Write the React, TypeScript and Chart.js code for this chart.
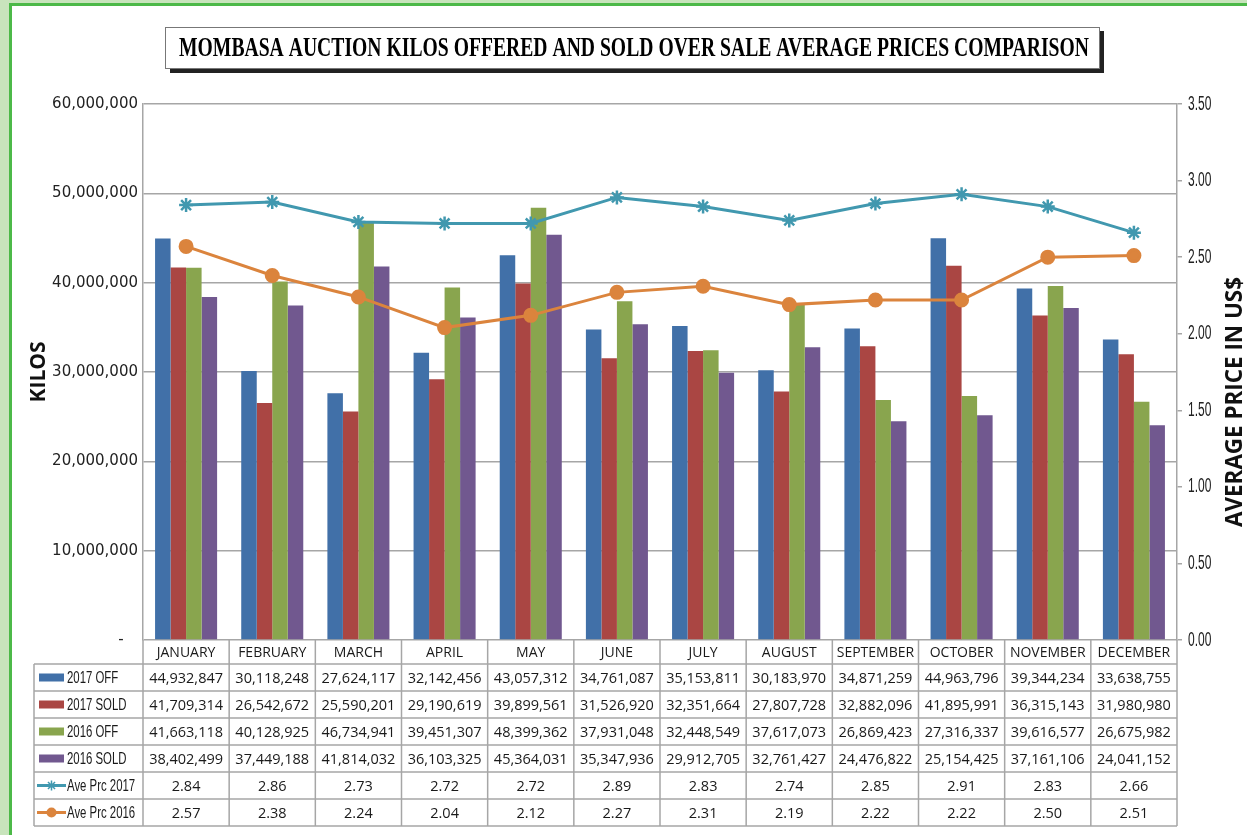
import React, { useEffect, useRef } from "react";
import { Chart, registerables } from "chart.js";

Chart.register(...registerables);

const months = ["JANUARY", "FEBRUARY", "MARCH", "APRIL", "MAY", "JUNE", "JULY", "AUGUST", "SEPTEMBER", "OCTOBER", "NOVEMBER", "DECEMBER"];
const off2017 = [44932847, 30118248, 27624117, 32142456, 43057312, 34761087, 35153811, 30183970, 34871259, 44963796, 39344234, 33638755];
const sold2017 = [41709314, 26542672, 25590201, 29190619, 39899561, 31526920, 32351664, 27807728, 32882096, 41895991, 36315143, 31980980];
const off2016 = [41663118, 40128925, 46734941, 39451307, 48399362, 37931048, 32448549, 37617073, 26869423, 27316337, 39616577, 26675982];
const sold2016 = [38402499, 37449188, 41814032, 36103325, 45364031, 35347936, 29912705, 32761427, 24476822, 25154425, 37161106, 24041152];
const prc2017 = [2.84, 2.86, 2.73, 2.72, 2.72, 2.89, 2.83, 2.74, 2.85, 2.91, 2.83, 2.66];
const prc2016 = [2.57, 2.38, 2.24, 2.04, 2.12, 2.27, 2.31, 2.19, 2.22, 2.22, 2.5, 2.51];

const TITLE = "MOMBASA AUCTION KILOS OFFERED AND SOLD OVER SALE AVERAGE PRICES COMPARISON";
const LEFT_TITLE = "KILOS";
const RIGHT_TITLE = "AVERAGE PRICE IN US$";

const BLUE = "#4170a8";
const RED = "#aa4643";
const GREEN = "#89a54e";
const PURPLE = "#71588f";
const TEAL = "#4198af";
const ORANGE = "#db843d";

const W = 1247;
const H = 835;
const GRID = "#a6a6a6";
const TABLE_LEFT = 34;
const HEADER_BOTTOM = 664;
const ROW_H = 27;

const fmt = (n: number) => n.toLocaleString("en-US");

function condensedText(ctx: CanvasRenderingContext2D, text: string, x: number, y: number, sx: number) {
  ctx.save();
  ctx.translate(x, y);
  ctx.scale(sx, 1);
  ctx.fillText(text, 0, 0);
  ctx.restore();
}

const decorPlugin = {
  id: "decor",
  beforeDraw(chart: any) {
    const ctx = chart.ctx as CanvasRenderingContext2D;
    ctx.save();
    ctx.fillStyle = "#c8e4bc";
    ctx.fillRect(0, 0, W, H);
    ctx.fillStyle = "#ffffff";
    ctx.fillRect(12, 6, W - 12, H - 6);
    ctx.fillStyle = "#4cb948";
    ctx.fillRect(9, 3, 3, H - 3);
    ctx.fillRect(9, 3, W - 9, 3);
    // title box
    ctx.fillStyle = "#222222";
    ctx.fillRect(170, 31, 934, 42);
    ctx.fillStyle = "#ffffff";
    ctx.fillRect(165, 27, 935, 42);
    ctx.strokeStyle = "#777777";
    ctx.lineWidth = 1;
    ctx.strokeRect(165.5, 27.5, 934, 41);
    ctx.restore();
  },
  afterDraw(chart: any) {
    const ctx = chart.ctx as CanvasRenderingContext2D;
    const ca = chart.chartArea;
    const n = months.length;
    const colW = (ca.right - ca.left) / n;
    const rows = 6;
    const tableBottom = HEADER_BOTTOM + rows * ROW_H;
    ctx.save();

    // title text
    ctx.fillStyle = "#000000";
    ctx.font = "bold 27px 'Liberation Serif'";
    ctx.textAlign = "center";
    ctx.textBaseline = "middle";
    const tw = ctx.measureText(TITLE).width;
    condensedText(ctx, TITLE, 634, 49, 910 / tw);

    // right axis tick labels (condensed)
    const y1 = chart.scales.y1;
    ctx.font = "20px 'Liberation Sans'";
    ctx.fillStyle = "#222";
    ctx.textAlign = "left";
    y1.ticks.forEach((t: any) => {
      condensedText(ctx, Number(t.value).toFixed(2), ca.right + 11, y1.getPixelForValue(t.value), 0.6);
    });

    // axis titles
    ctx.textAlign = "center";
    ctx.save();
    ctx.font = "bold 21px 'Open Sans'";
    ctx.fillStyle = "#111";
    ctx.translate(39, (ca.top + ca.bottom) / 2);
    ctx.rotate(-Math.PI / 2);
    ctx.fillText(LEFT_TITLE, 0, 0);
    ctx.restore();

    ctx.save();
    ctx.font = "bold 23px 'Open Sans'";
    ctx.fillStyle = "#111";
    ctx.translate(1235, 402);
    ctx.rotate(-Math.PI / 2);
    const rw = ctx.measureText(RIGHT_TITLE).width;
    ctx.scale(250 / rw, 1);
    ctx.fillText(RIGHT_TITLE, 0, 0);
    ctx.restore();

    // table grid
    ctx.strokeStyle = GRID;
    ctx.lineWidth = 1.5;
    ctx.beginPath();
    for (let i = 0; i <= n; i++) {
      const x = ca.left + i * colW;
      ctx.moveTo(x, ca.bottom);
      ctx.lineTo(x, tableBottom);
    }
    ctx.moveTo(TABLE_LEFT, HEADER_BOTTOM);
    ctx.lineTo(TABLE_LEFT, tableBottom);
    for (let r = 0; r <= rows; r++) {
      const y = HEADER_BOTTOM + r * ROW_H;
      ctx.moveTo(TABLE_LEFT, y);
      ctx.lineTo(ca.right, y);
    }
    ctx.stroke();

    // headers
    ctx.fillStyle = "#1a1a1a";
    ctx.font = "14px 'Open Sans'";
    ctx.textAlign = "center";
    ctx.textBaseline = "middle";
    months.forEach((m, i) => {
      ctx.fillText(m, ca.left + (i + 0.5) * colW, (ca.bottom + HEADER_BOTTOM) / 2 + 1);
    });

    const tableRows: { label: string; values: string[]; color: string; kind: string }[] = [
      { label: "2017 OFF", values: off2017.map(fmt), color: BLUE, kind: "bar" },
      { label: "2017 SOLD", values: sold2017.map(fmt), color: RED, kind: "bar" },
      { label: "2016 OFF", values: off2016.map(fmt), color: GREEN, kind: "bar" },
      { label: "2016 SOLD", values: sold2016.map(fmt), color: PURPLE, kind: "bar" },
      { label: "Ave Prc 2017", values: prc2017.map((v) => v.toFixed(2)), color: TEAL, kind: "star" },
      { label: "Ave Prc 2016", values: prc2016.map((v) => v.toFixed(2)), color: ORANGE, kind: "circle" },
    ];

    tableRows.forEach((row, r) => {
      const cy = HEADER_BOTTOM + r * ROW_H + ROW_H / 2 + 1;
      ctx.fillStyle = "#1a1a1a";
      ctx.font = "14.5px 'Open Sans'";
      ctx.textAlign = "center";
      row.values.forEach((v, i) => {
        ctx.fillText(v, ca.left + (i + 0.5) * colW, cy);
      });
      // legend swatch
      if (row.kind === "bar") {
        ctx.fillStyle = row.color;
        ctx.fillRect(39, cy - 5, 25, 8);
      } else {
        ctx.strokeStyle = row.color;
        ctx.lineWidth = 3;
        ctx.beginPath();
        ctx.moveTo(37, cy - 1);
        ctx.lineTo(66, cy - 1);
        ctx.stroke();
        if (row.kind === "circle") {
          ctx.fillStyle = row.color;
          ctx.beginPath();
          ctx.arc(51.5, cy - 1, 5, 0, Math.PI * 2);
          ctx.fill();
        } else {
          ctx.lineWidth = 1.5;
          ctx.beginPath();
          const rr = 5;
          for (let k = 0; k < 4; k++) {
            const a = (k * Math.PI) / 4;
            ctx.moveTo(51.5 - rr * Math.cos(a), cy - 1 - rr * Math.sin(a));
            ctx.lineTo(51.5 + rr * Math.cos(a), cy - 1 + rr * Math.sin(a));
          }
          ctx.stroke();
        }
      }
      ctx.fillStyle = "#1a1a1a";
      ctx.font = "17px 'Liberation Sans'";
      ctx.textAlign = "left";
      condensedText(ctx, row.label, 67, cy, 0.67);
    });

    ctx.restore();
  },
};

export default function App() {
  const ref = useRef<HTMLCanvasElement>(null);
  useEffect(() => {
    document.body.style.margin = "0";
    const barCommon = { yAxisID: "y", order: 2, categoryPercentage: 0.72, barPercentage: 1, borderWidth: 0 };
    const chart = new Chart(ref.current!, {
      type: "bar",
      data: {
        labels: months,
        datasets: [
          { ...barCommon, label: "2017 OFF", data: off2017, backgroundColor: BLUE },
          { ...barCommon, label: "2017 SOLD", data: sold2017, backgroundColor: RED },
          { ...barCommon, label: "2016 OFF", data: off2016, backgroundColor: GREEN },
          { ...barCommon, label: "2016 SOLD", data: sold2016, backgroundColor: PURPLE },
          {
            type: "line",
            label: "Ave Prc 2017",
            data: prc2017,
            yAxisID: "y1",
            order: 0,
            borderColor: TEAL,
            backgroundColor: TEAL,
            borderWidth: 3,
            tension: 0,
            pointStyle: "star",
            pointRadius: 7,
            pointBorderWidth: 2.5,
            pointBorderColor: TEAL,
          },
          {
            type: "line",
            label: "Ave Prc 2016",
            data: prc2016,
            yAxisID: "y1",
            order: 0,
            borderColor: ORANGE,
            backgroundColor: ORANGE,
            borderWidth: 3,
            tension: 0,
            pointStyle: "circle",
            pointRadius: 6,
            pointBackgroundColor: ORANGE,
            pointBorderColor: ORANGE,
          },
        ] as any,
      },
      options: {
        responsive: false,
        animation: false,
        layout: { padding: { left: 0, right: 0, top: 104, bottom: H - 640 } },
        plugins: { legend: { display: false }, tooltip: { enabled: false }, title: { display: false } },
        scales: {
          x: { type: "category", display: false, offset: true, grid: { display: false } },
          y: {
            position: "left",
            min: 0,
            max: 60000000,
            ticks: {
              stepSize: 10000000,
              padding: 5,
              color: "#222",
              font: { family: "'DejaVu Sans'", size: 15 },
              callback: (v: any) => (Number(v) === 0 ? "-   " : fmt(Number(v))),
            },
            grid: { color: GRID, lineWidth: 1.5, drawTicks: false },
            border: { display: true, color: GRID, width: 1.5 },
            afterFit: (s: any) => {
              s.width = 143;
            },
          },
          y1: {
            position: "right",
            min: 0,
            max: 3.5,
            ticks: {
              stepSize: 0.5,
              display: false,
            },
            grid: { drawOnChartArea: false, drawTicks: true, tickLength: 5, color: GRID, lineWidth: 1.5 },
            border: { display: true, color: GRID, width: 1.5 },
            afterFit: (s: any) => {
              s.width = W - 1177;
            },
          },
        },
      } as any,
      plugins: [decorPlugin],
    });
    return () => chart.destroy();
  }, []);
  return (
    <div style={{ position: "absolute", left: 0, top: 0, width: W, height: H }}>
      <canvas ref={ref} width={W} height={H} style={{ width: W, height: H, display: "block" }} />
    </div>
  );
}
